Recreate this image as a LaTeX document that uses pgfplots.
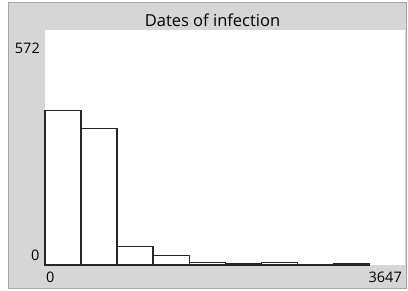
\documentclass[border=0pt]{standalone}
\usepackage{fontspec}
\setmainfont{Open Sans}
\usepackage{pgfplots}
\pgfplotsset{compat=1.18}
\definecolor{panel}{RGB}{214,214,214}
\definecolor{panelborder}{RGB}{165,165,165}
\begin{document}
\begin{tikzpicture}[x=1pt,y=1pt]
\fill[white] (0,0) rectangle (408,290);
\filldraw[fill=panel,draw=panelborder,line width=1pt] (8.5,1.5) rectangle (406.5,287);
\begin{axis}[at={(45pt,25pt)}, anchor=south west, scale only axis,
  width=360pt, height=235pt,
  xmin=0, xmax=3647, ymin=0, ymax=572,
  axis background/.style={fill=white},
  axis line style={draw=none},
  xtick=\empty, ytick=\empty, clip=false]
\addplot[ybar interval, draw=black!85, fill=white, line width=1.2pt]
  coordinates {(0,377) (365,332) (730,45) (1095,23) (1460,6) (1825,3) (2190,7) (2555,1) (2920,3) (3285,3)};
\end{axis}
\node[anchor=base, font=\fontsize{16.5}{18}\selectfont, inner sep=0pt] at (212.5,263.3) {Dates of infection};
\node[anchor=base east, font=\fontsize{14.5}{16}\selectfont, inner sep=0pt] at (40,236.7) {572};
\node[anchor=base east, font=\fontsize{14.5}{16}\selectfont, inner sep=0pt] at (39.5,30) {0};
\node[anchor=base west, font=\fontsize{14.5}{16}\selectfont, inner sep=0pt] at (46,7.8) {0};
\node[anchor=base east, font=\fontsize{14.5}{16}\selectfont, inner sep=0pt] at (402,7.8) {3647};
\end{tikzpicture}
\end{document}
